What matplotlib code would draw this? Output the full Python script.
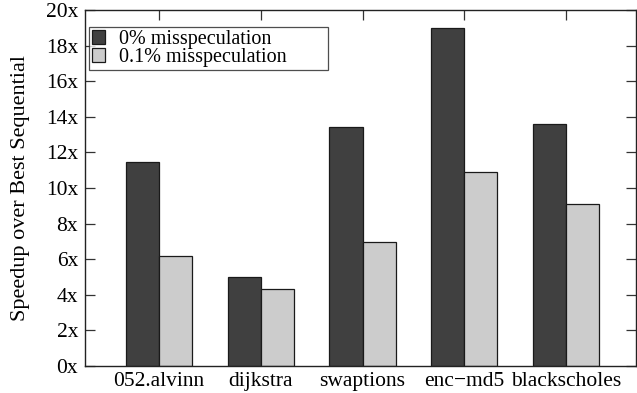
import matplotlib
matplotlib.use("Agg")
import matplotlib.pyplot as plt
import numpy as np
from matplotlib.ticker import MultipleLocator, FuncFormatter

categories = ["052.alvinn", "dijkstra", "swaptions", "enc\u2212md5", "blackscholes"]
series_names = ["0% misspeculation", "0.1% misspeculation"]
vals_0 = [11.45, 5.0, 13.4, 19.0, 13.6]
vals_01 = [6.2, 4.35, 6.95, 10.92, 9.08]

plt.rcParams['font.family'] = ['Liberation Serif', 'DejaVu Serif']

fig = plt.figure(figsize=(6.37, 3.93), dpi=100)
ax = fig.add_axes([85/637, 1 - 366/393, (636 - 85)/637, (366 - 10)/393])

x = np.arange(len(categories))
w = 0.325
ax.bar(x - w/2, vals_0, w, color="#404040", edgecolor="#1a1a1a", linewidth=0.9, label=series_names[0])
ax.bar(x + w/2, vals_01, w, color="#cccccc", edgecolor="#1a1a1a", linewidth=0.9, label=series_names[1])

ax.set_xlim(-0.725, 4.685)
ax.set_ylim(0, 20)
ax.yaxis.set_major_locator(MultipleLocator(2))
ax.yaxis.set_major_formatter(FuncFormatter(lambda v, p: f"{int(v)}x"))
ax.set_xticks(x)
ax.set_xticklabels(categories)
ax.tick_params(axis='both', direction='in', labelsize=15.5, length=7, width=0.9, color="#333333")
ax.tick_params(axis='y', right=True, pad=5)
ax.tick_params(axis='x', top=True, bottom=False, pad=4)
for s in ax.spines.values():
    s.set_linewidth(1.0)
    s.set_color("#222222")
ax.set_ylabel("Speedup over Best Sequential", fontsize=16, labelpad=11)

leg = ax.legend(loc="upper left", bbox_to_anchor=(4/551, 1 - 17/356, (328 - 89)/551, 0.0),
                mode="expand", fontsize=14.5,
                frameon=True, fancybox=False, edgecolor="#222222", handlelength=0.65,
                handleheight=0.65, handletextpad=0.7, borderpad=0.15, labelspacing=-0.05,
                borderaxespad=0)
leg.get_frame().set_linewidth(0.9)

fig.savefig("out.png", dpi=100)
